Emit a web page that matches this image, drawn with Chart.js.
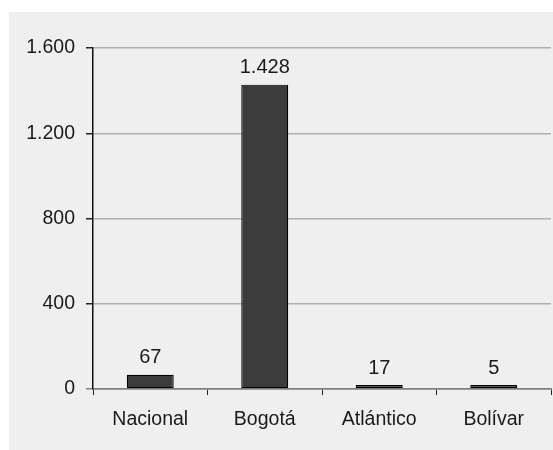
<!DOCTYPE html>
<html>
<head>
<meta charset="utf-8">
<script src="https://cdn.jsdelivr.net/npm/chart.js@4"></script>
<style>
  html, body { margin: 0; padding: 0; background: #fff; }
  #panel {
    position: absolute; left: 9px; top: 12px;
    width: 544px; height: 438px; background: #efefef;
  }
</style>
</head>
<body>
<div id="panel"><canvas id="chart" width="544" height="438"></canvas></div>
<script>
// Datos del gráfico
const categorias = ['Nacional', 'Bogotá', 'Atlántico', 'Bolívar'];
const valores = [67, 1428, 17, 5];
const ejeY = [0, 400, 800, 1200, 1600];

const FONT = '"Liberation Sans", Arial, sans-serif';

function miles(v) {
    return String(v).replace(/\B(?=(\d{3})+(?!\d))/g, '.');
}

// Etiquetas de valor encima de cada barra
const etiquetas = {
    id: 'etiquetas',
    afterDatasetsDraw(chart) {
        const ctx = chart.ctx;
        const meta = chart.getDatasetMeta(0);
        ctx.save();
        ctx.font = '20px ' + FONT;
        ctx.fillStyle = '#1a1a1a';
        ctx.textAlign = 'center';
        ctx.textBaseline = 'bottom';
        meta.data.forEach((bar, i) => {
            ctx.fillText(miles(valores[i]), bar.x, bar.y - 7);
        });
        ctx.restore();
    }
};

const ctx = document.getElementById('chart').getContext('2d');
new Chart(ctx, {
    type: 'bar',
    data: {
        labels: categorias,
        datasets: [{
            data: valores,
            backgroundColor: '#3c3c3c',
            borderColor: '#000',
            borderWidth: 1.2,
            borderSkipped: false,
            minBarLength: 4,
            categoryPercentage: 1,
            barPercentage: 0.41
        }]
    },
    options: {
        responsive: false,
        animation: false,
        layout: { padding: { top: 36, right: 2, left: 0, bottom: 0 } },
        plugins: {
            legend: { display: false },
            tooltip: { enabled: false }
        },
        scales: {
            x: {
                grid: {
                    offset: true,
                    drawOnChartArea: false,
                    tickLength: 6,
                    tickColor: '#222'
                },
                border: { color: '#808080', width: 1.5 },
                ticks: {
                    color: '#1a1a1a',
                    font: { family: FONT, size: 19.5 },
                    padding: 13
                },
                afterFit(scale) { scale.height = 61; }
            },
            y: {
                min: 0,
                max: 1600,
                afterBuildTicks(scale) {
                    scale.ticks = ejeY.map(v => ({ value: v }));
                },
                grid: {
                    color: ctx => ctx.tick && ctx.tick.value === 0 ? '#808080' : '#b0b0b0',
                    tickColor: ctx => ctx.tick && ctx.tick.value === 0 ? '#808080' : '#222',
                    tickLength: 7,
                    lineWidth: 1.5
                },
                border: { color: '#111', width: 1.5 },
                ticks: {
                    color: '#1a1a1a',
                    font: { family: FONT, size: 19.5 },
                    padding: 11,
                    callback: v => miles(v)
                },
                afterFit(scale) { scale.width = 84; }
            }
        }
    },
    plugins: [etiquetas]
});
</script>
</body>
</html>
